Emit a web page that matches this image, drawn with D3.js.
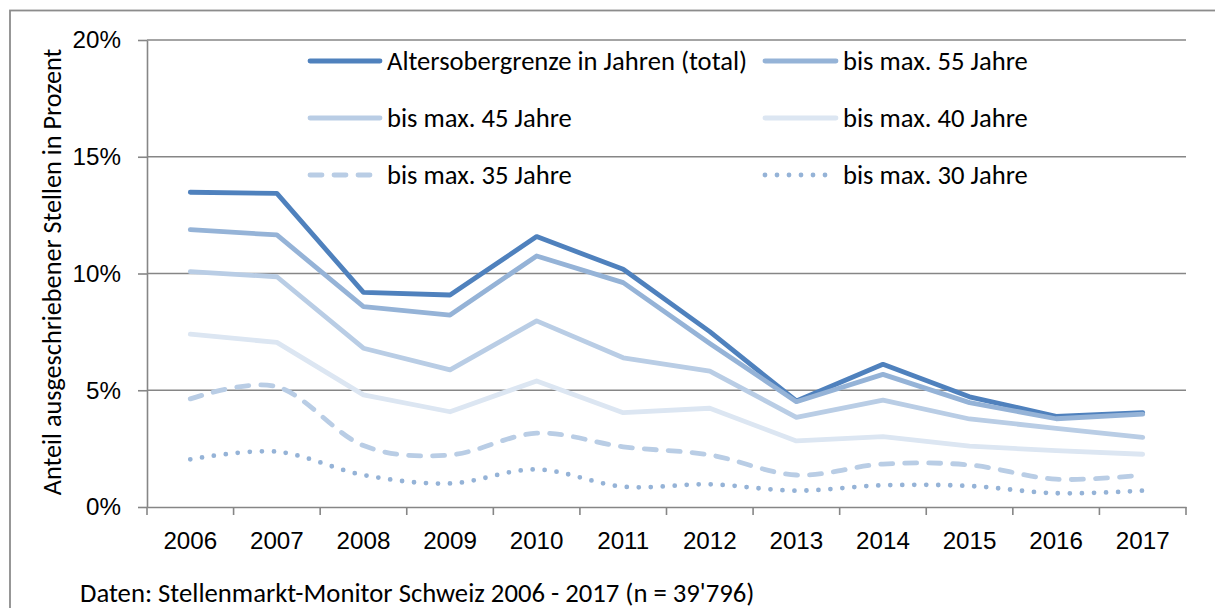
<!DOCTYPE html>
<html>
<head>
<meta charset="utf-8">
<script src="https://cdn.jsdelivr.net/npm/d3@7"></script>
<style>
  html, body { margin: 0; padding: 0; background: #fff; overflow: hidden; }
  svg { display: block; font-family: Carlito, Calibri, "Noto Sans", "Open Sans", sans-serif; }
</style>
</head>
<body>
<svg id="chart" width="1215" height="608"></svg>
<script>
const years = ["2006","2007","2008","2009","2010","2011","2012","2013","2014","2015","2016","2017"];
const seriesNames = ["Altersobergrenze in Jahren (total)","bis max. 55 Jahre","bis max. 45 Jahre","bis max. 40 Jahre","bis max. 35 Jahre","bis max. 30 Jahre"];
const total = [13.48, 13.43, 9.19, 9.08, 11.58, 10.18, 7.51, 4.54, 6.11, 4.72, 3.88, 4.04];
const max55 = [11.88, 11.65, 8.58, 8.22, 10.75, 9.61, 7.00, 4.51, 5.68, 4.47, 3.78, 3.98];
const max45 = [10.08, 9.86, 6.80, 5.87, 7.97, 6.39, 5.82, 3.84, 4.58, 3.77, 3.37, 2.98];
const max40 = [7.40, 7.05, 4.80, 4.08, 5.40, 4.04, 4.23, 2.83, 3.01, 2.61, 2.41, 2.26];
const max35 = [4.63, 5.15, 2.63, 2.23, 3.16, 2.58, 2.23, 1.37, 1.84, 1.80, 1.19, 1.37];
const max30 = [2.04, 2.37, 1.37, 1.01, 1.61, 0.87, 0.97, 0.70, 0.93, 0.90, 0.59, 0.70];
const yTicks = [0, 5, 10, 15, 20];
const yTitle = "Anteil ausgeschriebener Stellen in Prozent";
const footer = "Daten: Stellenmarkt-Monitor Schweiz 2006 - 2017 (n = 39'796)";

const allValues = [total, max55, max45, max40, max35, max30];
const styles = [
  {color: "#4F81BD", dash: null, smooth: false},
  {color: "#95B3D7", dash: null, smooth: false},
  {color: "#B9CDE5", dash: null, smooth: false},
  {color: "#DCE6F2", dash: null, smooth: false},
  {color: "#B9CDE5", dash: "12,12", smooth: true},
  {color: "#95B3D7", dash: "0,12", smooth: true}
];
const series = seriesNames.map((name, i) => ({name, values: allValues[i], ...styles[i]}));

const svg = d3.select("#chart");
const plot = {left: 147, right: 1186, top: 40, bottom: 507};
const gridColor = "#868686";
const tickFont = 24.2, legendFont = 26.6, footerFont = 26.7, titleFont = 26.2;

// outer border
svg.append("rect").attr("x", 10).attr("y", 10.5).attr("width", 1220).attr("height", 620)
  .attr("fill", "none").attr("stroke", "#8c8c8c").attr("stroke-width", 1.8);

const x = d3.scaleBand().domain(years).range([plot.left, plot.right]).paddingInner(0).paddingOuter(0);
const y = d3.scaleLinear().domain([0, 20]).range([plot.bottom, plot.top]);
const cx = d => x(d) + x.bandwidth() / 2;

// gridlines
svg.append("g").selectAll("line").data(yTicks.filter(t => t > 0)).join("line")
  .attr("x1", plot.left).attr("x2", plot.right)
  .attr("y1", d => y(d)).attr("y2", d => y(d))
  .attr("stroke", gridColor).attr("stroke-width", 1.6);

// y axis
const yAxis = svg.append("g").attr("transform", `translate(${plot.left},0)`)
  .call(d3.axisLeft(y).tickValues(yTicks).tickFormat(d => d + "%").tickSizeInner(9).tickSizeOuter(0).tickPadding(17));
yAxis.select(".domain").attr("stroke", gridColor).attr("stroke-width", 1.6);
yAxis.selectAll(".tick line").attr("stroke", gridColor).attr("stroke-width", 1.6);
yAxis.selectAll(".tick text").attr("font-size", tickFont).attr("fill", "#000").attr("font-family", null);

// x axis
const xAxis = svg.append("g").attr("transform", `translate(0,${plot.bottom})`)
  .call(d3.axisBottom(x).tickSize(0).tickPadding(25));
xAxis.select(".domain").attr("stroke", gridColor).attr("stroke-width", 1.6);
xAxis.selectAll(".tick text").attr("font-size", tickFont).attr("fill", "#000").attr("font-family", null);
// category boundary ticks
const bounds = years.map(d => x(d)).concat([plot.right]);
xAxis.append("g").selectAll("line").data(bounds).join("line")
  .attr("x1", d => d).attr("x2", d => d).attr("y1", 0).attr("y2", 8)
  .attr("stroke", gridColor).attr("stroke-width", 1.6);

// lines
const lineStraight = d3.line().x((d, i) => cx(years[i])).y(d => y(d));
const lineSmooth = d3.line().x((d, i) => cx(years[i])).y(d => y(d)).curve(d3.curveCatmullRom.alpha(0));
svg.append("g").selectAll("path").data(series).join("path")
  .attr("d", s => (s.smooth ? lineSmooth : lineStraight)(s.values))
  .attr("fill", "none")
  .attr("stroke", s => s.color)
  .attr("stroke-width", 4.8)
  .attr("stroke-linecap", "round")
  .attr("stroke-linejoin", "round")
  .attr("stroke-dasharray", s => s.dash);

// legend
const legRows = [61, 118, 175];
const legCols = [{x1: 310, x2: 380, tx: 387}, {x1: 765, x2: 836, tx: 843}];
const leg = svg.append("g").selectAll("g").data(series).join("g")
  .attr("transform", (s, i) => `translate(0,${legRows[Math.floor(i / 2)]})`);
leg.append("line")
  .attr("x1", (s, i) => legCols[i % 2].x1).attr("x2", (s, i) => legCols[i % 2].x2)
  .attr("y1", 0).attr("y2", 0)
  .attr("stroke", s => s.color).attr("stroke-width", 4.8)
  .attr("stroke-linecap", "round").attr("stroke-dasharray", s => s.dash);
leg.append("text")
  .attr("x", (s, i) => legCols[i % 2].tx).attr("y", 0).attr("dy", "0.34em")
  .attr("font-size", legendFont).attr("fill", "#000")
  .text(s => s.name);

// y title
svg.append("text")
  .attr("transform", "translate(52,272) rotate(-90)")
  .attr("text-anchor", "middle").attr("dy", "0.34em").attr("font-size", titleFont).attr("fill", "#000")
  .text(yTitle);

// footer
svg.append("text").attr("x", 80).attr("y", 602).attr("font-size", footerFont).attr("fill", "#000")
  .text(footer);
</script>
</body>
</html>
